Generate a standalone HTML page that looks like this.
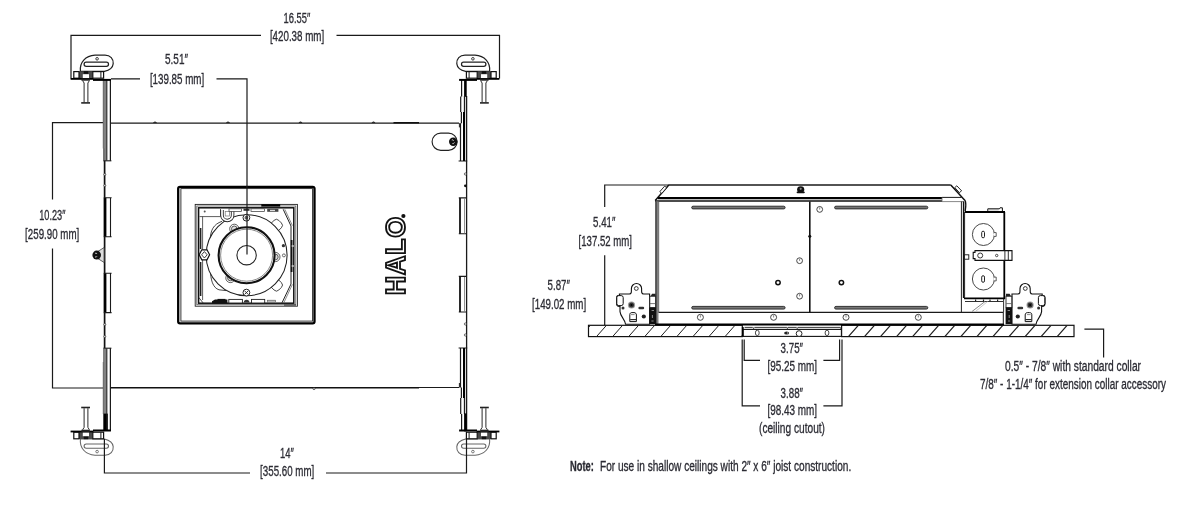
<!DOCTYPE html>
<html>
<head>
<meta charset="utf-8">
<title>Dimensions</title>
<style>
html,body{margin:0;padding:0;background:#fff;}
body{width:1200px;height:522px;overflow:hidden;font-family:"Liberation Sans",sans-serif;}
svg{display:block;will-change:transform;}
text{font-family:"Liberation Sans",sans-serif;fill:#2b2b33;stroke:#2b2b33;stroke-width:.32;}
.d{font-size:15.2px;}
.n{font-size:14.5px;}
.l{stroke:#1a1a1a;stroke-width:1.2;fill:none;}
.t{stroke:#111;stroke-width:1.6;fill:none;}
.k{stroke:#000;stroke-width:2.4;fill:none;}
.g{stroke:#555;stroke-width:0.8;fill:none;}
.w{fill:#fff;stroke:#1a1a1a;stroke-width:1;}
.f{fill:#111;stroke:none;}
</style>
</head>
<body>
<svg width="1200" height="522" viewBox="0 0 1200 522">
<rect x="0" y="0" width="1200" height="522" fill="#ffffff"/>

<!-- ================= TOP VIEW : DIMENSION LINES ================= -->
<g class="l" id="tv-dims">
  <!-- 16.55 -->
  <path d="M71 78.5V35.3H261M336.5 35.3H499.5V78.5"/>
  <!-- 5.51 -->
  <path d="M111 78.8H140M216.5 78.8H247V254"/>
  <!-- 10.23 -->
  <path d="M104 122.6H52.5V199.5M52.5 248.5V388H104"/>
</g>

<!-- ================= TOP VIEW : HOUSING ================= -->
<g id="tv-housing">
  <!-- plate outline -->
  <path class="l" d="M110.5 123.2H459M110.5 387.5H459"/>
  <path class="t" d="M393.5 122.8H419M111 387.7H419"/>
  <path d="M153.4 122.6Q155 121 156.6 122.6ZM226.4 122.6Q228 121 229.6 122.6ZM298.9 122.6Q300.5 121 302.1 122.6ZM371.9 122.6Q373.5 121 375.1 122.6Z" fill="#111" stroke="#111" stroke-width=".5"/>
  <circle cx="314" cy="388.7" r="1" fill="#fff" stroke="#222" stroke-width=".7"/>
  
  <g id="left-rail">
    <!-- upper rail -->
    <rect x="103" y="79" width="3.4" height="81.6" fill="#828282"/>
    <path d="M103.2 79V148.5M104 148.5V160.6" stroke="#555" stroke-width=".6" fill="none"/>
    <path class="l" d="M106.8 79V160.6" style="stroke-width:1.1"/>
    <path class="l" d="M110.4 79V160.8" style="stroke-width:1.25"/>
    <path class="l" d="M103.4 160.8H111.4" style="stroke-width:1.1"/>
    <!-- plate edge -->
    <path class="l" d="M104.6 160.8V348" style="stroke-width:1.7;stroke:#111"/>
    <!-- tab 2 -->
    <rect x="103.8" y="197.8" width="2.6" height="39" fill="#000"/>
    <path class="l" d="M103.8 197.8H111.6M110.5 197.8V236.8M103.8 236.8H111.6" style="stroke-width:1.1"/>
    <!-- tab 3 -->
    <rect x="103.8" y="273.2" width="2.6" height="39.4" fill="#000"/>
    <path class="l" d="M103.8 273.2H111.6M110.5 273.2V312.6M103.8 312.6H111.6" style="stroke-width:1.1"/>
    <!-- lower rail -->
    <rect x="103" y="348.4" width="3.4" height="82.6" fill="#828282"/>
    <path d="M103.2 362V414" stroke="#555" stroke-width=".6" fill="none"/>
    <rect x="103.6" y="413.6" width="4.2" height="17.4" fill="#000"/>
    <path class="l" d="M106.8 348.4V431" style="stroke-width:1.1"/>
    <path class="l" d="M110.4 348.2V431" style="stroke-width:1.25"/>
    <path class="l" d="M103.4 348.2H111.4" style="stroke-width:1.1"/>
    <!-- notches -->
    <circle cx="104.8" cy="174.5" r="1" class="w" style="stroke-width:.6"/>
    <circle cx="104.8" cy="185.5" r="1" class="w" style="stroke-width:.6"/>
    <circle cx="104.8" cy="324.5" r="1" class="w" style="stroke-width:.6"/>
    <circle cx="104.8" cy="336.5" r="1" class="w" style="stroke-width:.6"/>
    <!-- side screw -->
    <path d="M104 247.6L97 252V258L104 262.4Z" fill="#ddd" stroke="#555" stroke-width=".9"/>
    <ellipse cx="96.7" cy="255.1" rx="4.3" ry="4.5" class="f"/>
    <path d="M95 253.4Q96.4 252.4 97 254M95 256.8Q96.4 257.8 97 256.2" stroke="#bbb" stroke-width="1" fill="none"/>
  </g>
  <g id="right-rail">
    <path class="l" d="M466.6 96V431" style="stroke-width:1.3"/>
    <!-- upper rail -->
    <path class="l" d="M461.6 80V96.6M460.7 96.6V112M461.4 112V123.2M460.5 123.2V161M458.6 161H467.2" style="stroke-width:1.2"/>
    <rect x="464.1" y="79" width="2.6" height="17.8" fill="#000"/>
    <path class="l" d="M464.5 96V112" style="stroke-width:1.3"/>
    <rect x="463" y="112" width="2.1" height="49" fill="#000"/>
    <path class="l" d="M459.4 123.2V127.4" style="stroke-width:1"/>
    <!-- tab 2 -->
    <path class="l" d="M458.8 197.9H467M458.8 233.8H467" style="stroke-width:1.1"/>
    <path class="l" d="M460 197.9V233.8" style="stroke-width:1.8;stroke:#111"/>
    <path class="g" d="M464.5 198.4V233.4" style="stroke:#777"/>
    <!-- tab 3 -->
    <path class="l" d="M458.8 276.4H467M458.8 312H467" style="stroke-width:1.1"/>
    <path class="l" d="M460 276.4V312" style="stroke-width:1.8;stroke:#111"/>
    <path class="g" d="M464.5 277V311.5" style="stroke:#777"/>
    <!-- lower rail -->
    <path class="l" d="M458.6 348H467.2M460.5 348V387.5M461.4 387.5V398M460.7 398V414M461.6 414V431" style="stroke-width:1.2"/>
    <rect x="463" y="348" width="2.1" height="50" fill="#000"/>
    <path class="l" d="M464.5 398V414" style="stroke-width:1.3"/>
    <rect x="464.1" y="413.4" width="2.6" height="18" fill="#000"/>
    <path class="l" d="M459.4 383V387.5" style="stroke-width:1"/>
    <!-- notches -->
    <circle cx="465.4" cy="174" r="1.1" class="w" style="stroke-width:.6"/>
    <circle cx="465.4" cy="185.8" r="1.4" class="f"/>
    <circle cx="465.4" cy="324" r="1.1" class="w" style="stroke-width:.6"/>
    <circle cx="465.4" cy="335" r="1.1" class="w" style="stroke-width:.6"/>
    <!-- oval knockout w/ screw -->
    <rect x="432.1" y="133.1" width="25" height="17.2" rx="8.6" class="w" style="stroke:#222;stroke-width:1.15"/>
    <circle cx="453.2" cy="141.7" r="4.2" class="f"/>
    <path d="M451.8 140Q453 139.2 453.6 140.8M452.4 143.6Q453.6 144.2 454.4 142.4" stroke="#ccc" stroke-width="1" fill="none"/>
  </g>
</g>

<defs>
  <g id="foot">
    <path d="M80.4 71.4C79.4 62.4 85.4 55.8 95 55.2H105C110.4 55.2 113.6 59 113.2 63.8C112.8 67.8 109.6 70.2 104.4 71.4Z" fill="#fff"/>
    <rect x="84.1" y="62.2" width="24.4" height="4.2" rx="2.1" fill="#fff"/>
    <circle cx="97.1" cy="58.8" r="1.3" fill="#fff" style="stroke-width:.9"/>
  </g>
  <g id="brk">
    <!-- foot -->
    <!-- bar -->
    <rect x="79" y="71.4" width="13.8" height="7" fill="#4a4a4a"/>
    <rect x="82.8" y="74.2" width="6.2" height="3.8" fill="#fff"/>
    <rect x="83.8" y="71.2" width="4.4" height="2.6" fill="#111"/>
    <rect x="73.8" y="71.6" width="5.2" height="6.6" class="w" style="stroke:#111;stroke-width:1.2"/>
    <rect x="92.8" y="71.6" width="10.8" height="6.6" class="w" style="stroke:#111;stroke-width:1.2"/>
    <path class="l" d="M100.9 71.6V78" style="stroke-width:1"/>
    <path d="M70.6 78.9H93.4" stroke="#000" stroke-width="1.8" fill="none"/>
    <path d="M93 79.9H110.9" stroke="#000" stroke-width="2" fill="none"/>
    <!-- bolt -->
    <rect x="81.4" y="78.4" width="8.4" height="2.3" fill="#222"/>
    <path d="M82.6 80.6L84.1 83V102.2M89.4 80.6L87.9 83V102.2" stroke="#2a2a2a" stroke-width="1" fill="none"/>
    <path d="M81.2 102.9H90" stroke="#222" stroke-width="1.6" fill="none"/>
  </g>
</defs>
<g id="brackets">
  <g style="stroke:#222;stroke-width:1.25">
    <use href="#foot"/>
    <use href="#foot" transform="translate(570 0) scale(-1 1)"/>
  </g>
  <g style="stroke:#666;stroke-width:1.05">
    <use href="#foot" transform="translate(0 510.4) scale(1 -1)"/>
    <use href="#foot" transform="translate(570 510.4) scale(-1 -1)"/>
  </g>
  <!-- 14in dim passes over lower feet -->
  <path class="l" d="M104.4 439V473H250M326 473H466.5V439"/>
  <use href="#brk"/>
  <use href="#brk" transform="translate(570 0) scale(-1 1)"/>
  <use href="#brk" transform="translate(0 510.4) scale(1 -1)"/>
  <use href="#brk" transform="translate(570 510.4) scale(-1 -1)"/>
</g>

<g id="fixture">
  <!-- outer trim square -->
  <rect x="178.2" y="186.8" width="136.3" height="136.5" rx="1.8" fill="#fff" stroke="#000" stroke-width="2.3"/>
  <rect x="180.9" y="188.6" width="131.7" height="132.5" fill="none" stroke="#222" stroke-width=".9"/>
  <!-- inner aperture frame -->
  <rect x="195.2" y="204.4" width="102.2" height="101.8" fill="#fff" stroke="#222" stroke-width=".9"/>
  <rect x="196.8" y="206" width="99" height="98.7" fill="none" stroke="#555" stroke-width=".8"/>
  <rect x="198.6" y="207.8" width="95.2" height="95.4" fill="none" stroke="#111" stroke-width="1.5"/>
  <path d="M261.3 205.4H280.2" stroke="#000" stroke-width="2.4"/>
  <path d="M284 305H296" stroke="#555" stroke-width="1.6"/>
  <!-- left inner wall -->
  <path class="l" d="M202.6 216.5V300" style="stroke-width:.8;stroke:#333"/>
  <path d="M200.6 228V249M200.6 262V296" stroke="#222" stroke-width="1.6"/>
  <path class="l" d="M199.5 216.6H220.5V209" style="stroke-width:.8;stroke:#333"/>
  <circle cx="204.7" cy="211.4" r="1" fill="#555"/>
  <path class="l" d="M198.8 297.5L203 302.8" style="stroke-width:.8"/>
  <!-- right inner wall + diagonals -->
  <path class="l" d="M283.2 209.3L291 226V284L282 302.8" style="stroke-width:1;stroke:#222"/>
  <path class="l" d="M284.8 209.3L292.4 225.6M292.4 284.4L283.8 302.8" style="stroke-width:.7;stroke:#555"/>
  <path d="M291.6 240V272" stroke="#111" stroke-width="1.8"/>
  <path d="M291.6 246H294M291.6 266H294" stroke="#fff" stroke-width="1.2"/>
  <!-- corner tabs (behind big disc) -->
  <g class="w" style="stroke:#333;stroke-width:.85">
    <rect x="34" y="-5.2" width="13.4" height="10.4" rx="3.4" transform="translate(246.6 255.2) rotate(-45)"/>
    <rect x="34" y="-5.2" width="13.4" height="10.4" rx="3.4" transform="translate(246.6 255.2) rotate(45)"/>
  </g>
  <path class="l" d="M210.2 241C210.2 230 213.5 224.4 222 221.3" style="stroke-width:.9;stroke:#333"/>
  <path class="l" d="M210.4 269C210.4 280 213 288 219 289.8L226 290.6" style="stroke-width:.9;stroke:#333"/>
  <!-- main disc -->
  <circle cx="246.6" cy="255.2" r="40.5" class="w" style="stroke:#222;stroke-width:1.05"/>
  <!-- mount bumps -->
  <g>
    <circle cx="234.3" cy="228.8" r="4.6" class="w" style="stroke:#333;stroke-width:.8"/>
    <circle cx="234.3" cy="228.8" r="2.8" fill="#ddd" stroke="#333" stroke-width=".8"/>
    <circle cx="275.4" cy="257" r="4.6" class="w" style="stroke:#333;stroke-width:.8"/>
    <circle cx="275.4" cy="257" r="2.8" fill="#ddd" stroke="#333" stroke-width=".8"/>
    <circle cx="230.4" cy="278" r="4.6" class="w" style="stroke:#333;stroke-width:.8"/>
    <circle cx="230.4" cy="278" r="2.8" fill="#ddd" stroke="#333" stroke-width=".8"/>
  </g>
  <!-- lens rings -->
  <circle cx="246.6" cy="255.2" r="28" fill="#fff" stroke="#111" stroke-width="2.1"/>
  <circle cx="246.6" cy="255.2" r="26" fill="none" stroke="#555" stroke-width=".7"/>
  <circle cx="246.6" cy="255.2" r="9.7" fill="#fff" stroke="#222" stroke-width="1.1"/>
  <!-- screws top/bottom -->
  <g>
    <circle cx="246.4" cy="217.7" r="3.4" class="w" style="stroke:#222;stroke-width:1"/>
    <circle cx="246.4" cy="217.7" r="1.9" fill="#666"/>
    <circle cx="246.4" cy="292.6" r="3.4" class="w" style="stroke:#222;stroke-width:1"/>
    <path d="M244.6 290.8L248.2 294.4M248.2 290.8L244.6 294.4" stroke="#222" stroke-width=".9"/>
  </g>
  <!-- hex nut on left -->
  <path d="M199.2 254.8L201.8 249.8H207L209.6 254.8L207 259.8H201.8Z" class="w" style="stroke:#111;stroke-width:1.2"/>
  <path d="M201.6 254.8L204.4 251.6L207.2 254.8L204.4 258Z" class="w" style="stroke:#222;stroke-width:.9"/>
  <!-- small holes right -->
  <circle cx="283.4" cy="245.7" r="1.6" fill="#333"/>
  <circle cx="283.9" cy="255.4" r="1.5" class="w" style="stroke:#333;stroke-width:.7"/>
  <!-- spring hook top-left -->
  <path d="M222 210V215.2A5.3 5.3 0 0 0 232.6 215.2V210" fill="none" stroke="#2a2a2a" stroke-width="3.5"/>
  <path d="M222 209.4V215.2A5.3 5.3 0 0 0 232.6 215.2V209.4" fill="none" stroke="#fff" stroke-width="1.7"/>
  <rect x="225.2" y="211.6" width="4.4" height="4.4" fill="#fff" stroke="#777" stroke-width=".7"/>
  <!-- top connector blocks -->
  <rect x="229" y="208.8" width="12.5" height="2.6" class="w" style="stroke:#333;stroke-width:.7"/>
  <rect x="251" y="208.8" width="13.6" height="2.6" class="w" style="stroke:#333;stroke-width:.7"/>
  <rect x="267.2" y="208.8" width="11.2" height="3" fill="#444"/>
  <rect x="270" y="209.8" width="5" height="1.3" fill="#ddd"/>
  <rect x="243.5" y="208.6" width="6" height="2.2" fill="#333"/>
  <!-- bottom connector blocks -->
  <path d="M212 303.4V301.2L215 299.6H227.4V303.4Z" fill="#111"/>
  <rect x="217.5" y="298.9" width="8" height="1.2" fill="#111"/>
  <rect x="228.8" y="299.4" width="13.6" height="3.6" class="w" style="stroke:#222;stroke-width:.9"/>
  <rect x="251.5" y="299.4" width="13.2" height="3.6" class="w" style="stroke:#222;stroke-width:.9"/>
  <rect x="267.6" y="300.2" width="8" height="2.4" fill="#bbb" stroke="#555" stroke-width=".6"/>
  <path d="M243.8 302.6A2.8 2.8 0 0 1 249.4 302.6Z" fill="#333"/>
</g>

<path class="l" d="M247 186V254.6"/>

<!-- HALO -->
<g id="halo">
  <text transform="translate(405.2 295.2) rotate(-90)" style="font-size:27px;font-weight:bold;fill:#fff;stroke:#111;stroke-width:1.85;stroke-linejoin:miter" textLength="78.5" lengthAdjust="spacing">HALO</text>
  <circle cx="403.4" cy="216" r="2.1" fill="#111"/>
</g>

<!-- ================= SIDE VIEW ================= -->
<g id="sv">

  <!-- dimension lines -->
  <g class="l">
    <path d="M604.7 207V185H669"/>
    <path d="M604.7 255.2V325"/>
    <path d="M744.2 339.5V360.4H760M823.4 360.4H839.6V339.5"/>
    <path d="M742.2 339.5V405.8H760M823.4 405.8H842V339.5"/>
    <path d="M1084.4 329.2H1103.6V357.4"/>
  </g>
  <!-- ceiling -->
  <rect x="588.5" y="325.3" width="153.8" height="11.3" class="w" style="stroke:#111;stroke-width:1.2"/>
  <rect x="841.6" y="325.3" width="232.4" height="11.3" class="w" style="stroke:#111;stroke-width:1.2"/>
  <path class="l" d="M588.5 327.5L590.3 325.4M596.7 336.4L606.4 325.4M612.8 336.4L622.5 325.4M628.8 336.4L638.5 325.4M644.9 336.4L654.6 325.4M660.9 336.4L670.6 325.4M677.0 336.4L686.7 325.4M693.1 336.4L702.8 325.4M709.1 336.4L718.8 325.4M725.2 336.4L734.9 325.4M741.2 336.4L742.3 335.2" style="stroke:#222;stroke-width:1"/>
  <path class="l" d="M848.6 336.4L858.3 325.4M864.7 336.4L874.4 325.4M880.7 336.4L890.4 325.4M896.8 336.4L906.5 325.4M912.8 336.4L922.5 325.4M928.9 336.4L938.6 325.4M945.0 336.4L954.7 325.4M961.0 336.4L970.7 325.4M977.1 336.4L986.8 325.4M993.1 336.4L1002.8 325.4M1009.2 336.4L1018.9 325.4M1025.3 336.4L1035.0 325.4M1041.3 336.4L1051.0 325.4M1057.4 336.4L1067.1 325.4" style="stroke:#222;stroke-width:1.25"/>
  <!-- lid -->
  <path class="l" d="M668.8 185H950.8" style="stroke-width:1.3"/>
  <path class="l" d="M668.8 185L655.2 200.6M950.8 185L965 200.4" style="stroke-width:1.5;stroke:#111"/>
  <path d="M664.6 186.2L659.8 191.6L661.8 193.4L666.8 187.6Z" class="w" style="stroke:#111;stroke-width:.9"/>
  <path d="M956.8 185.8L954.8 187.6L959.4 192.6L961.6 190.8Z" class="w" style="stroke:#111;stroke-width:.9"/>
  <path d="M657.8 198.1H942" stroke="#000" stroke-width="2.1" fill="none"/>
  <path class="l" d="M942 197.4H961.5" style="stroke-width:1"/>
  <path class="l" d="M655 201H942" style="stroke-width:1.35;stroke:#111"/>
  <path d="M942 201.6H964" stroke="#888" stroke-width="1" fill="none"/>
  <path class="l" d="M942 197.4V201.6" style="stroke-width:.8;stroke:#666"/>
  <!-- knob -->
  <ellipse cx="800.7" cy="189.6" rx="3.6" ry="3.4" class="f"/>
  <rect x="796.6" y="191.4" width="8.2" height="1.8" rx=".9" class="f"/>
  <circle cx="800.7" cy="188.8" r="1.1" fill="#888"/>
  <!-- body -->
  <path d="M657.2 201.5V324" stroke="#808080" stroke-width="2.6" fill="none"/>
  <path class="l" d="M655.9 201.5V324" style="stroke-width:1.3;stroke:#333"/>
  <path class="l" d="M658.7 201.5V312.4" style="stroke-width:.7;stroke:#444"/>
  <path class="l" d="M961.4 201.5V312.4" style="stroke-width:1;stroke:#222"/>
  <path class="l" d="M963.6 201.5V298" style="stroke-width:1.5;stroke:#111"/>
  <path class="l" d="M965 200.4C966.4 203 966 206 965.2 211" style="stroke-width:1.4;stroke:#111"/>
  <path class="l" d="M658.6 312.4H1003.5" style="stroke-width:1.1"/>
  <path d="M655 324.4H1004" stroke="#000" stroke-width="2" fill="none"/>
  <path class="l" d="M1003.3 312.4V324" style="stroke-width:1"/>
  <path d="M809.8 201.6V312.4" stroke="#111" stroke-width="1.6" fill="none"/>
  <circle cx="809.8" cy="236.2" r="1.5" class="f"/>
  <!-- slots -->
  <g fill="#777" stroke="#222" stroke-width=".9">
    <rect x="691.7" y="206.2" width="93.4" height="2.7" rx="1.35"/>
    <rect x="834.6" y="206.2" width="93.2" height="2.7" rx="1.35"/>
    <rect x="691.7" y="306.4" width="93.4" height="2.7" rx="1.35"/>
    <rect x="834.6" y="306.4" width="93.2" height="2.7" rx="1.35"/>
  </g>
  <!-- holes -->
  <g class="w" style="stroke:#333;stroke-width:.9">
    <circle cx="819.7" cy="209.4" r="2.9"/>
    <circle cx="799.6" cy="260.7" r="2.9"/>
    <circle cx="799.6" cy="296.2" r="2.9"/>
    <circle cx="700.4" cy="317.3" r="3"/>
    <circle cx="773.6" cy="317.3" r="3"/>
    <circle cx="846" cy="317.3" r="3"/>
    <circle cx="918.3" cy="317.3" r="3"/>
  </g>
  <path d="M819.7 207.4V209.6M799.6 258.7V260.9M799.6 294.2V296.4M700.4 315.2V317.5M773.6 315.2V317.5M846 315.2V317.5M918.3 315.2V317.5" stroke="#555" stroke-width=".7" fill="none"/>
  <circle cx="778" cy="282.6" r="2.2" fill="#fff" stroke="#111" stroke-width="1.5"/>
  <circle cx="841.4" cy="282.6" r="2.2" fill="#fff" stroke="#111" stroke-width="1.5"/>
  <!-- trim in cutout -->
  <g>
    <rect x="742.8" y="329.4" width="98.6" height="7" class="w" style="stroke:#111;stroke-width:1.1"/>
    <path d="M742.8 327V336.4" stroke="#000" stroke-width="1.8"/>
    <path d="M744.6 327.4H752.8M754.4 327.4H786.9M788 327.4H796.6M797.8 327.4H840.2" stroke="#222" stroke-width=".9" fill="none"/>
    <path d="M753.6 327.4V329.4M787.4 327.4V329.4M797.2 327.4V329.4M840.8 327V329.4" stroke="#222" stroke-width=".8" fill="none"/>
    <ellipse cx="757.3" cy="332.9" rx="1.9" ry="2.7" class="w" style="stroke:#333;stroke-width:.9"/>
    <ellipse cx="827" cy="332.9" rx="1.9" ry="2.7" class="w" style="stroke:#333;stroke-width:.9"/>
    <circle cx="799.1" cy="333.6" r="2.9" class="w" style="stroke:#222;stroke-width:1"/>
    <ellipse cx="786.6" cy="333" rx="2.5" ry="1.5" fill="#222"/>
    <circle cx="787.6" cy="333" r=".7" fill="#aaa"/>
  </g>
  <!-- junction box -->
  <g>
    <path d="M965 212H1005" stroke="#000" stroke-width="2" fill="none"/>
    <path d="M1004.3 212V299" stroke="#000" stroke-width="1.8" fill="none"/>
    <path d="M964 298.4H1005" stroke="#000" stroke-width="1.8" fill="none"/>
    <path class="l" d="M964.6 212V298" style="stroke-width:.9"/>
    <path d="M987.8 211V208.8H999.4L1000 207.8H1002.4V211" class="w" style="stroke:#111;stroke-width:1"/>
    <path d="M989 209.8H998.6" stroke="#999" stroke-width="1"/>
    <!-- knockouts -->
    <circle cx="983.4" cy="234.5" r="11" class="w" style="stroke:#333;stroke-width:.9"/>
    <circle cx="983.4" cy="279" r="11" class="w" style="stroke:#333;stroke-width:.9"/>
    <path d="M994 232.6H996.2V236.4H994" class="w" style="stroke:#333;stroke-width:.8"/>
    <path d="M994 277.1H996.2V280.9H994" class="w" style="stroke:#333;stroke-width:.8"/>
    <rect x="981.7" y="231.2" width="2.8" height="6.6" rx="1.4" class="w" style="stroke:#222;stroke-width:1"/>
    <rect x="981.7" y="275.7" width="2.8" height="6.6" rx="1.4" class="w" style="stroke:#222;stroke-width:1"/>
    <!-- clip -->
    <path d="M975 250.6H1012V260.4H975V258.6H973.2V252.4H975Z" class="w" style="stroke:#111;stroke-width:1.1"/>
    <path class="l" d="M1004.9 250.6V260.4M1008.3 250.6V260.4" style="stroke-width:.9"/>
    <circle cx="980.2" cy="255.5" r="2.5" class="w" style="stroke:#222;stroke-width:.9"/>
    <circle cx="996.7" cy="255.5" r="1.2" class="w" style="stroke:#222;stroke-width:.8"/>
    <rect x="964.4" y="254.8" width="4.4" height="4.4" class="w" style="stroke:#111;stroke-width:.9"/>
    <!-- below jbox -->
    <path class="l" d="M965 301.5H1003M1003.6 299V312.4" style="stroke-width:.9"/>
    <path d="M985 301.5L972 311.5" stroke="#888" stroke-width="1" fill="none"/>
    <path d="M987.5 301.5L975.5 311.5" stroke="#bbb" stroke-width=".8" fill="none"/>
    <path d="M975.6 299.4V301.4M983.5 299.4V301.4M990 299.4V301.4M997.6 299.4V301.4" stroke="#222" stroke-width="1.2"/>
  </g>
  <!-- hanger brackets -->
  <defs>
  <g id="sbrk">
    <path d="M625.6 324.3C624.6 318.5 620.6 317 620 311.6V306.4
      C616.6 306.4 616.6 305 616.6 303V298C616.6 295.6 617.6 295.4 619.4 295.4V294H629.4
      C631.6 294 631.4 292 631.4 288.6A5.1 5.1 0 0 1 641.6 288.6C641.6 292 641.4 294 643.6 294H649.6V324.3Z"
      class="w" style="stroke:#111;stroke-width:1.1"/>
    <rect x="616.8" y="295.6" width="6.4" height="10" rx="2" class="w" style="stroke:#111;stroke-width:1"/>
    <circle cx="636.3" cy="288.5" r="1.9" class="w" style="stroke:#222;stroke-width:.9"/>
    <circle cx="631.5" cy="305" r="3.6" fill="#999"/>
    <circle cx="631.5" cy="305" r="2.5" fill="#333"/>
    <circle cx="631.5" cy="305" r="1" fill="#000"/>
    <circle cx="623" cy="308" r="1.5" fill="#333"/>
    <rect x="638.4" y="306.8" width="5.8" height="2.4" rx="1.2" fill="#333"/>
    <circle cx="643.8" cy="316.5" r="2.1" fill="#222"/>
    <path d="M629.8 321.6V314.6C629.8 313.2 630.8 312.6 632 312.6H634C635.6 312.6 636.4 313.6 636.4 315V321.6Z" class="w" style="stroke:#111;stroke-width:1"/>
    <path d="M630.2 319.6H636.2" stroke="#222" stroke-width="1.1"/>
    <path d="M631 314.6H634.6" stroke="#555" stroke-width=".7"/>
    <!-- clamp block -->
    <rect x="649.8" y="296.2" width="5.8" height="11.4" class="w" style="stroke:#222;stroke-width:.9"/>
    <path d="M650 303.6H655.4" stroke="#555" stroke-width=".8"/>
    <path d="M652 293.8L655.6 293.8V296.2H650.6Z" fill="#222"/>
    <rect x="649.6" y="307.6" width="6.4" height="16.6" fill="#111"/>
    <path d="M651.6 310.5H654M652.4 315V318M651.4 321H653.6" stroke="#aaa" stroke-width=".8"/>
  </g>
  </defs>
  <use href="#sbrk"/>
  <use href="#sbrk" transform="translate(1661.6 0) scale(-1 1)"/>

</g>

<!-- ================= TEXT ================= -->
<g id="labels">
  <text class="d" x="283.5" y="22.8" textLength="26.8" lengthAdjust="spacingAndGlyphs">16.55″</text>
  <text class="d" x="269.9" y="41.4" textLength="54.3" lengthAdjust="spacingAndGlyphs">[420.38 mm]</text>

  <text class="d" x="165" y="64.4" textLength="23" lengthAdjust="spacingAndGlyphs">5.51″</text>
  <text class="d" x="149.9" y="83.6" textLength="54.3" lengthAdjust="spacingAndGlyphs">[139.85 mm]</text>

  <text class="d" x="39.2" y="220.1" textLength="26.2" lengthAdjust="spacingAndGlyphs">10.23″</text>
  <text class="d" x="25.1" y="238.6" textLength="54.1" lengthAdjust="spacingAndGlyphs">[259.90 mm]</text>

  <text class="d" x="280" y="457.8" textLength="13.9" lengthAdjust="spacingAndGlyphs">14″</text>
  <text class="d" x="260.1" y="476.4" textLength="54.2" lengthAdjust="spacingAndGlyphs">[355.60 mm]</text>

  <text class="d" x="593.1" y="226.5" textLength="22.3" lengthAdjust="spacingAndGlyphs">5.41″</text>
  <text class="d" x="578.6" y="245.5" textLength="53.4" lengthAdjust="spacingAndGlyphs">[137.52 mm]</text>

  <text class="d" x="547.6" y="289.7" textLength="22.3" lengthAdjust="spacingAndGlyphs">5.87″</text>
  <text class="d" x="532" y="309.2" textLength="54.2" lengthAdjust="spacingAndGlyphs">[149.02 mm]</text>

  <text class="d" x="780.6" y="353" textLength="22.4" lengthAdjust="spacingAndGlyphs">3.75″</text>
  <text class="d" x="767.4" y="371" textLength="49.7" lengthAdjust="spacingAndGlyphs">[95.25 mm]</text>
  <text class="d" x="780.6" y="398" textLength="22.4" lengthAdjust="spacingAndGlyphs">3.88″</text>
  <text class="d" x="767.4" y="415" textLength="49.7" lengthAdjust="spacingAndGlyphs">[98.43 mm]</text>
  <text class="d" x="759" y="433" textLength="66" lengthAdjust="spacingAndGlyphs">(ceiling cutout)</text>

  <text class="d" x="1005" y="371" textLength="136" lengthAdjust="spacingAndGlyphs">0.5″ - 7/8″ with standard collar</text>
  <text class="d" x="980" y="389" textLength="186" lengthAdjust="spacingAndGlyphs">7/8″ - 1-1/4″ for extension collar accessory</text>

  <text class="n" x="570" y="470.6" textLength="23.8" lengthAdjust="spacingAndGlyphs" font-weight="bold">Note:</text>
  <text class="n" x="600" y="470.6" textLength="251.2" lengthAdjust="spacingAndGlyphs">For use in shallow ceilings with 2″ x 6″ joist construction.</text>
</g>
</svg>
</body>
</html>
